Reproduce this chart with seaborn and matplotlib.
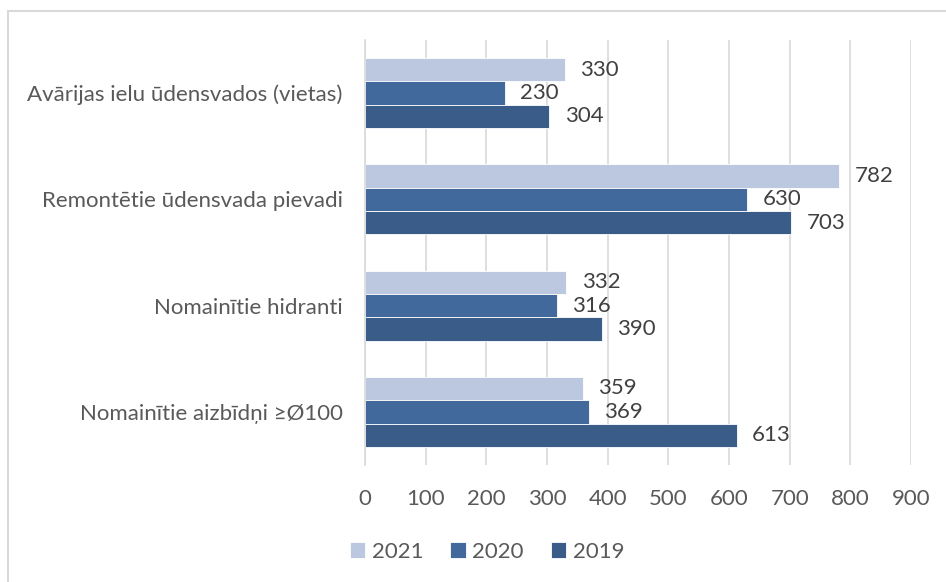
import matplotlib
matplotlib.use("Agg")
import matplotlib.pyplot as plt
import seaborn as sns
import pandas as pd
from matplotlib.patches import Rectangle

categories = ["Avārijas ielu ūdensvados (vietas)", "Remontētie ūdensvada pievadi",
              "Nomainītie hidranti", "Nomainītie aizbīdņi ≥Ø100"]
years = ["2021", "2020", "2019"]
v2021 = [330, 782, 332, 359]
v2020 = [230, 630, 316, 369]
v2019 = [304, 703, 390, 613]
xticks = [0, 100, 200, 300, 400, 500, 600, 700, 800, 900]
colors = ["#BCC8E0", "#41699C", "#3A5C88"]

rows = []
for y, vals in zip(years, [v2021, v2020, v2019]):
    for c, v in zip(categories, vals):
        rows.append({"cat": c, "year": y, "value": v})
df = pd.DataFrame(rows)

sns.set_style("white")
plt.rcParams["font.family"] = ["Lato", "DejaVu Sans"]

fig = plt.figure(figsize=(9.46, 5.82), dpi=100)
ax = fig.add_axes([365/946, 1-465/582, (911-365)/946, (465-40)/582])

sns.barplot(data=df, y="cat", x="value", hue="year", hue_order=years,
            order=categories, palette=colors, saturation=1, width=0.66, ax=ax,
            edgecolor="white", linewidth=0.6, legend=True)

for cont in ax.containers:
    ax.bar_label(cont, padding=11, fontsize=16, color="#404040")

ax.set_xlim(0, 900)
ax.set_xticks(xticks)
ax.set_xticklabels([str(t) for t in xticks])
ax.grid(axis="x", color="#D9D9D9", linewidth=1.2)
ax.set_axisbelow(True)
for s in ["top", "right", "bottom"]:
    ax.spines[s].set_visible(False)
ax.spines["left"].set_color("#D9D9D9")
ax.spines["left"].set_linewidth(1.2)
ax.tick_params(axis="x", length=0, pad=17, labelsize=16, labelcolor="#595959")
ax.tick_params(axis="y", length=0, pad=16, labelsize=16, labelcolor="#595959")
ax.set_xlabel("")
ax.set_ylabel("")

handles, labels = ax.get_legend_handles_labels()
ax.get_legend().remove()
fig.legend(handles, labels, loc="center", bbox_to_anchor=(487/946, 1-552/582),
           ncol=3, frameon=False, fontsize=16, labelcolor="#595959",
           handlelength=0.7, handleheight=0.7, handletextpad=0.3, columnspacing=1.2)

fig.patches.append(Rectangle((8/946, -0.05), 1.1, 1-11/582+0.05, transform=fig.transFigure,
                             fill=False, edgecolor="#D9D9D9", linewidth=1.5))

fig.savefig("out.png", dpi=100)
